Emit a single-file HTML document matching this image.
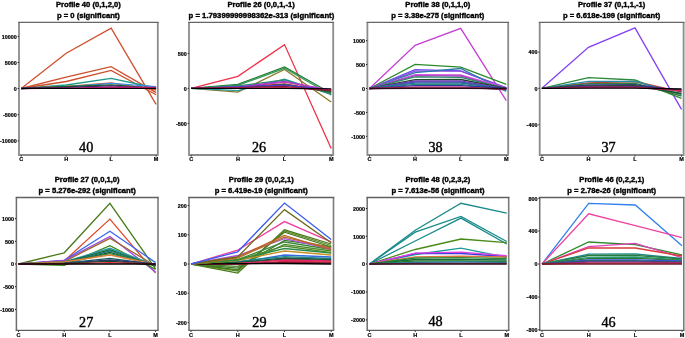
<!DOCTYPE html>
<html><head><meta charset="utf-8"><style>
html,body{margin:0;padding:0;background:#fff;width:685px;height:338px;overflow:hidden}
svg{display:block;will-change:transform}
.t{font-family:"Liberation Sans",sans-serif;font-weight:bold;font-size:8.0px;fill:#000;stroke:#000;stroke-width:0.4px}
.y{font-family:"Liberation Sans",sans-serif;font-weight:bold;font-size:5.4px;fill:#000;stroke:#000;stroke-width:0.2px}
.x{font-family:"Liberation Sans",sans-serif;font-weight:bold;font-size:5.5px;fill:#000;stroke:#000;stroke-width:0.2px}
.n{font-family:"Liberation Serif",serif;font-size:14.2px;fill:#000;stroke:#000;stroke-width:0.4px}
.l{fill:none;stroke-width:1.3;stroke-linejoin:miter}
.b{fill:none;stroke:#8c8c8c;stroke-width:1.8}
.bt{fill:none;stroke:#666;stroke-width:1.35}
</style></head><body>
<svg width="685" height="338" viewBox="0 0 685 338">

<g>
<text class="t" transform="translate(88.4,7) scale(0.955,1)" text-anchor="middle">Profile 40 (0,1,2,0)</text>
<text class="t" transform="translate(88.4,17.9) scale(0.955,1)" text-anchor="middle">p = 0 (significant)</text>
<polyline class="l" stroke="#cf4f2c" points="21.2,88.5 66.17,53.3 111.13,28.2 156.1,104.4"/>
<polyline class="l" stroke="#cf4f2c" points="21.2,88.5 66.17,77.2 111.13,66.7 156.1,92.6"/>
<polyline class="l" stroke="#cf4f2c" points="21.2,88.5 66.17,81.5 111.13,70.4 156.1,94.8"/>
<polyline class="l" stroke="#1f9a8a" points="21.2,88.5 66.17,85 111.13,78.3 156.1,88"/>
<polyline class="l" stroke="#d8602e" points="21.2,88.5 66.17,86.3 111.13,82.8 156.1,90"/>
<polyline class="l" stroke="#3a8ee8" points="21.2,88.5 66.17,87 111.13,83.3 156.1,86.6"/>
<polyline class="l" stroke="#1a6a2a" points="21.2,88.5 66.17,86.5 111.13,84.8 156.1,88.2"/>
<polyline class="l" stroke="#2a2a6a" points="21.2,88.5 66.17,87.3 111.13,85.8 156.1,88.5"/>
<polyline class="l" stroke="#e0208a" points="21.2,88.5 66.17,88.2 111.13,87.1 156.1,87.3"/>
<polyline class="l" stroke="#000000" stroke-width="1.05" points="21.2,88.3 66.17,88.3 111.13,88.3 156.1,88.3"/>
<path class="b" d="M19 22.3V155H157.8V22.3"/>
<path class="bt" d="M18.1 22.35H158.7"/>
<rect x="17.7" y="35.9" width="1" height="1" fill="#000"/>
<text class="y" x="16.7" y="38.6" text-anchor="end">10000</text>
<rect x="17.7" y="62" width="1" height="1" fill="#000"/>
<text class="y" x="16.7" y="64.7" text-anchor="end">5000</text>
<rect x="17.7" y="88" width="1" height="1" fill="#000"/>
<text class="y" x="16.7" y="90.7" text-anchor="end">0</text>
<rect x="17.7" y="114.2" width="1" height="1" fill="#000"/>
<text class="y" x="16.7" y="116.9" text-anchor="end">-5000</text>
<rect x="17.7" y="140.3" width="1" height="1" fill="#000"/>
<text class="y" x="16.7" y="143" text-anchor="end">-10000</text>
<rect x="20.7" y="155.5" width="1" height="1" fill="#000"/>
<text class="x" x="21.2" y="161.45" text-anchor="middle">C</text>
<rect x="65.67" y="155.5" width="1" height="1" fill="#000"/>
<text class="x" x="66.17" y="161.45" text-anchor="middle">H</text>
<rect x="110.63" y="155.5" width="1" height="1" fill="#000"/>
<text class="x" x="111.13" y="161.45" text-anchor="middle">L</text>
<rect x="155.6" y="155.5" width="1" height="1" fill="#000"/>
<text class="x" x="156.1" y="161.45" text-anchor="middle">M</text>
<text class="n" x="86.2" y="151.7" text-anchor="middle">40</text>
</g>
<g>
<text class="t" transform="translate(261.1,7) scale(0.955,1)" text-anchor="middle">Profile 26 (0,0,1,-1)</text>
<text class="t" transform="translate(261.4,17.9) scale(0.965,1)" text-anchor="middle">p = 1.79399999998362e-313 (significant)</text>
<polyline class="l" stroke="#f0304a" points="191.2,88.4 237.87,76.3 284.53,44.6 331.2,148.5"/>
<polyline class="l" stroke="#8a7a2a" points="191.2,88.4 237.87,92.2 284.53,69.4 331.2,102"/>
<polyline class="l" stroke="#1f7a35" points="191.2,88.4 237.87,84.4 284.53,67 331.2,93.3"/>
<polyline class="l" stroke="#3a9a5a" points="191.2,88.4 237.87,85.4 284.53,68.3 331.2,95"/>
<polyline class="l" stroke="#2a9a9a" points="191.2,88.4 237.87,90.7 284.53,79.1 331.2,94.5"/>
<polyline class="l" stroke="#2a8a6a" points="191.2,88.4 237.87,86 284.53,80 331.2,93.8"/>
<polyline class="l" stroke="#9a3ae0" points="191.2,88.4 237.87,87 284.53,81.3 331.2,91"/>
<polyline class="l" stroke="#c03ac0" points="191.2,88.4 237.87,87.5 284.53,82.2 331.2,90"/>
<polyline class="l" stroke="#c03030" points="191.2,88.4 237.87,87.5 284.53,83.8 331.2,91.5"/>
<polyline class="l" stroke="#1a6a2a" points="191.2,88.4 237.87,88 284.53,84.5 331.2,92"/>
<polyline class="l" stroke="#4a3ad0" points="191.2,88.4 237.87,86.8 284.53,85.2 331.2,90"/>
<polyline class="l" stroke="#8a1a3a" points="191.2,88.4 237.87,87.6 284.53,86.5 331.2,90.8"/>
<polyline class="l" stroke="#e02a6a" points="191.2,88.4 237.87,88 284.53,87.6 331.2,89.6"/>
<polyline class="l" stroke="#000000" stroke-width="1.05" points="191.2,88.4 237.87,88.4 284.53,88.4 331.2,88.8"/>
<path class="b" d="M189 22.3V155H333.2V22.3"/>
<path class="bt" d="M188.1 22.35H334.1"/>
<rect x="187.7" y="52.9" width="1" height="1" fill="#000"/>
<text class="y" x="186.7" y="55.6" text-anchor="end">500</text>
<rect x="187.7" y="87.9" width="1" height="1" fill="#000"/>
<text class="y" x="186.7" y="90.6" text-anchor="end">0</text>
<rect x="187.7" y="122.9" width="1" height="1" fill="#000"/>
<text class="y" x="186.7" y="125.6" text-anchor="end">-500</text>
<rect x="190.7" y="155.5" width="1" height="1" fill="#000"/>
<text class="x" x="191.2" y="161.45" text-anchor="middle">C</text>
<rect x="237.37" y="155.5" width="1" height="1" fill="#000"/>
<text class="x" x="237.87" y="161.45" text-anchor="middle">H</text>
<rect x="284.03" y="155.5" width="1" height="1" fill="#000"/>
<text class="x" x="284.53" y="161.45" text-anchor="middle">L</text>
<rect x="330.7" y="155.5" width="1" height="1" fill="#000"/>
<text class="x" x="331.2" y="161.45" text-anchor="middle">M</text>
<text class="n" x="259" y="151.7" text-anchor="middle">26</text>
</g>
<g>
<text class="t" transform="translate(437.8,7) scale(0.955,1)" text-anchor="middle">Profile 38 (0,1,1,0)</text>
<text class="t" transform="translate(437.8,17.9) scale(0.955,1)" text-anchor="middle">p = 3.38e-275 (significant)</text>
<polyline class="l" stroke="#c43ed2" points="369.5,88.5 415.1,45.3 460.7,28.3 506.3,100.6"/>
<polyline class="l" stroke="#2a8a2a" points="369.5,88.5 415.1,64.4 460.7,67.1 506.3,84.3"/>
<polyline class="l" stroke="#6a4af0" points="369.5,88.5 415.1,69.7 460.7,70.8 506.3,87.5"/>
<polyline class="l" stroke="#8a4ae0" points="369.5,88.5 415.1,71.2 460.7,71.2 506.3,88"/>
<polyline class="l" stroke="#2a7aaa" points="369.5,88.5 415.1,72.6 460.7,68.5 506.3,91.5"/>
<polyline class="l" stroke="#d050e0" points="369.5,88.5 415.1,74.6 460.7,75 506.3,88"/>
<polyline class="l" stroke="#b040c0" points="369.5,88.5 415.1,75.6 460.7,76 506.3,88.8"/>
<polyline class="l" stroke="#2a8a6a" points="369.5,88.5 415.1,76.9 460.7,77.3 506.3,88.3"/>
<polyline class="l" stroke="#1a4a2a" points="369.5,88.5 415.1,79.6 460.7,79.5 506.3,88.5"/>
<polyline class="l" stroke="#7a3ab0" points="369.5,88.5 415.1,81 460.7,80.8 506.3,89"/>
<polyline class="l" stroke="#5a4ac0" points="369.5,88.5 415.1,82 460.7,82 506.3,89.5"/>
<polyline class="l" stroke="#2a6a9a" points="369.5,88.5 415.1,83.2 460.7,83 506.3,89"/>
<polyline class="l" stroke="#2a8a7a" points="369.5,88.5 415.1,84.3 460.7,84.3 506.3,90"/>
<polyline class="l" stroke="#2a3aa0" points="369.5,88.5 415.1,85.6 460.7,85.6 506.3,88.5"/>
<polyline class="l" stroke="#c040a0" points="369.5,88.5 415.1,86.8 460.7,86.8 506.3,89.5"/>
<polyline class="l" stroke="#8a1a2a" points="369.5,88.5 415.1,87.8 460.7,87.8 506.3,89"/>
<polyline class="l" stroke="#2a0a1a" points="369.5,88.5 415.1,88.4 460.7,88.4 506.3,88.5"/>
<path class="b" d="M367.4 22.3V155H508.2V22.3"/>
<path class="bt" d="M366.5 22.35H509.1"/>
<rect x="366.1" y="40.2" width="1" height="1" fill="#000"/>
<text class="y" x="365.1" y="42.9" text-anchor="end">1000</text>
<rect x="366.1" y="64.1" width="1" height="1" fill="#000"/>
<text class="y" x="365.1" y="66.8" text-anchor="end">500</text>
<rect x="366.1" y="88" width="1" height="1" fill="#000"/>
<text class="y" x="365.1" y="90.7" text-anchor="end">0</text>
<rect x="366.1" y="111.9" width="1" height="1" fill="#000"/>
<text class="y" x="365.1" y="114.6" text-anchor="end">-500</text>
<rect x="366.1" y="135.8" width="1" height="1" fill="#000"/>
<text class="y" x="365.1" y="138.5" text-anchor="end">-1000</text>
<rect x="369" y="155.5" width="1" height="1" fill="#000"/>
<text class="x" x="369.5" y="161.45" text-anchor="middle">C</text>
<rect x="414.6" y="155.5" width="1" height="1" fill="#000"/>
<text class="x" x="415.1" y="161.45" text-anchor="middle">H</text>
<rect x="460.2" y="155.5" width="1" height="1" fill="#000"/>
<text class="x" x="460.7" y="161.45" text-anchor="middle">L</text>
<rect x="505.8" y="155.5" width="1" height="1" fill="#000"/>
<text class="x" x="506.3" y="161.45" text-anchor="middle">M</text>
<text class="n" x="435.5" y="151.7" text-anchor="middle">38</text>
</g>
<g>
<text class="t" transform="translate(611.65,7) scale(0.955,1)" text-anchor="middle">Profile 37 (0,1,1,-1)</text>
<text class="t" transform="translate(611.65,17.9) scale(0.955,1)" text-anchor="middle">p = 6.618e-199 (significant)</text>
<polyline class="l" stroke="#8440f4" points="541.9,88.3 588.43,47.3 634.97,27.9 681.5,109.4"/>
<polyline class="l" stroke="#c84040" points="541.9,88.3 588.43,82.8 634.97,81.5 681.5,92"/>
<polyline class="l" stroke="#2a8a3a" points="541.9,88.3 588.43,77.7 634.97,80 681.5,98.3"/>
<polyline class="l" stroke="#2a8aaa" points="541.9,88.3 588.43,81.3 634.97,81.3 681.5,94.5"/>
<polyline class="l" stroke="#3a7a3a" points="541.9,88.3 588.43,83.7 634.97,83.1 681.5,96"/>
<polyline class="l" stroke="#2a3a8a" points="541.9,88.3 588.43,85 634.97,84.6 681.5,91"/>
<polyline class="l" stroke="#1a5a2a" points="541.9,88.3 588.43,86 634.97,85.5 681.5,93.5"/>
<polyline class="l" stroke="#5a2a7a" points="541.9,88.3 588.43,86.5 634.97,86.5 681.5,90"/>
<polyline class="l" stroke="#d82a6a" points="541.9,88.3 588.43,87.5 634.97,87.5 681.5,90.5"/>
<polyline class="l" stroke="#000000" stroke-width="1.05" points="541.9,88.3 588.43,88.2 634.97,88.2 681.5,89"/>
<path class="b" d="M539.7 22.3V155H683.6V22.3"/>
<path class="bt" d="M538.8 22.35H684.5"/>
<rect x="538.4" y="51.7" width="1" height="1" fill="#000"/>
<text class="y" x="537.4" y="54.4" text-anchor="end">400</text>
<rect x="538.4" y="87.8" width="1" height="1" fill="#000"/>
<text class="y" x="537.4" y="90.5" text-anchor="end">0</text>
<rect x="538.4" y="124.3" width="1" height="1" fill="#000"/>
<text class="y" x="537.4" y="127" text-anchor="end">-400</text>
<rect x="541.4" y="155.5" width="1" height="1" fill="#000"/>
<text class="x" x="541.9" y="161.45" text-anchor="middle">C</text>
<rect x="587.93" y="155.5" width="1" height="1" fill="#000"/>
<text class="x" x="588.43" y="161.45" text-anchor="middle">H</text>
<rect x="634.47" y="155.5" width="1" height="1" fill="#000"/>
<text class="x" x="634.97" y="161.45" text-anchor="middle">L</text>
<rect x="681" y="155.5" width="1" height="1" fill="#000"/>
<text class="x" x="681.5" y="161.45" text-anchor="middle">M</text>
<text class="n" x="608.5" y="151.7" text-anchor="middle">37</text>
</g>
<g>
<text class="t" transform="translate(87.2,182.2) scale(0.955,1)" text-anchor="middle">Profile 27 (0,0,1,0)</text>
<text class="t" transform="translate(87.2,193.1) scale(0.955,1)" text-anchor="middle">p = 5.276e-292 (significant)</text>
<polyline class="l" stroke="#4a7a1a" points="18.5,264 64.2,252.8 109.9,203.3 155.6,268.8"/>
<polyline class="l" stroke="#e04a2a" points="18.5,264 64.2,261 109.9,219.1 155.6,273.2"/>
<polyline class="l" stroke="#3a6af0" points="18.5,264 64.2,260.3 109.9,231.2 155.6,262.6"/>
<polyline class="l" stroke="#a040f0" points="18.5,264 64.2,260.5 109.9,236.5 155.6,272"/>
<polyline class="l" stroke="#9a6a2a" points="18.5,264 64.2,261.5 109.9,238.3 155.6,266"/>
<polyline class="l" stroke="#3a8a1a" points="18.5,264 64.2,265.3 109.9,245.6 155.6,269.3"/>
<polyline class="l" stroke="#2a9aaa" points="18.5,264 64.2,261.8 109.9,248.3 155.6,265"/>
<polyline class="l" stroke="#1a6a3a" points="18.5,264 64.2,262.2 109.9,249.8 155.6,266"/>
<polyline class="l" stroke="#1a7a7a" points="18.5,264 64.2,262.5 109.9,251 155.6,265.5"/>
<polyline class="l" stroke="#1a5a2a" points="18.5,264 64.2,262.8 109.9,252.5 155.6,266"/>
<polyline class="l" stroke="#2a8a4a" points="18.5,264 64.2,263 109.9,253.6 155.6,265"/>
<polyline class="l" stroke="#e0803a" points="18.5,264 64.2,262 109.9,255 155.6,264.5"/>
<polyline class="l" stroke="#1a5a5a" points="18.5,264 64.2,263.2 109.9,258.3 155.6,264.5"/>
<polyline class="l" stroke="#2a3a7a" points="18.5,264 64.2,263.4 109.9,260 155.6,264"/>
<polyline class="l" stroke="#1a4a2a" points="18.5,264 64.2,263.6 109.9,261.2 155.6,265"/>
<polyline class="l" stroke="#e02a4a" points="18.5,264 64.2,263.8 109.9,262.7 155.6,264"/>
<polyline class="l" stroke="#000000" stroke-width="1.05" points="18.5,264 64.2,264 109.9,264 155.6,264"/>
<path fill="none" stroke="#6e6e6e" stroke-width="1.5" d="M16.4 197.5V330.3"/>
<path fill="none" stroke="#7c7c7c" stroke-width="1.6" d="M158 197.5V330.3"/>
<path fill="none" stroke="#606060" stroke-width="1.3" d="M15.65 197.5H158.8"/>
<path fill="none" stroke="#606060" stroke-width="1.3" d="M15.65 330.3H158.8"/>
<rect x="15.1" y="218.1" width="1" height="1" fill="#000"/>
<text class="y" x="14.1" y="220.8" text-anchor="end">1000</text>
<rect x="15.1" y="240.8" width="1" height="1" fill="#000"/>
<text class="y" x="14.1" y="243.5" text-anchor="end">500</text>
<rect x="15.1" y="263.5" width="1" height="1" fill="#000"/>
<text class="y" x="14.1" y="266.2" text-anchor="end">0</text>
<rect x="15.1" y="286.2" width="1" height="1" fill="#000"/>
<text class="y" x="14.1" y="288.9" text-anchor="end">-500</text>
<rect x="15.1" y="308.9" width="1" height="1" fill="#000"/>
<text class="y" x="14.1" y="311.6" text-anchor="end">-1000</text>
<rect x="18" y="330.8" width="1" height="1" fill="#000"/>
<text class="x" x="18.5" y="336.75" text-anchor="middle">C</text>
<rect x="63.7" y="330.8" width="1" height="1" fill="#000"/>
<text class="x" x="64.2" y="336.75" text-anchor="middle">H</text>
<rect x="109.4" y="330.8" width="1" height="1" fill="#000"/>
<text class="x" x="109.9" y="336.75" text-anchor="middle">L</text>
<rect x="155.1" y="330.8" width="1" height="1" fill="#000"/>
<text class="x" x="155.6" y="336.75" text-anchor="middle">M</text>
<text class="n" x="86.2" y="326.9" text-anchor="middle">27</text>
</g>
<g>
<text class="t" transform="translate(261.25,182.2) scale(0.955,1)" text-anchor="middle">Profile 29 (0,0,2,1)</text>
<text class="t" transform="translate(261.25,193.1) scale(0.955,1)" text-anchor="middle">p = 6.419e-19 (significant)</text>
<polyline class="l" stroke="#4a7a1a" points="191,264 237.73,273.1 284.47,229.8 331.2,244"/>
<polyline class="l" stroke="#5a8a2a" points="191,264 237.73,271 284.47,231 331.2,245.5"/>
<polyline class="l" stroke="#4a7a1a" points="191,264 237.73,269.8 284.47,232.2 331.2,247"/>
<polyline class="l" stroke="#3a7a2a" points="191,264 237.73,268.1 284.47,240.4 331.2,247"/>
<polyline class="l" stroke="#4a8a2a" points="191,264 237.73,266.4 284.47,244.4 331.2,251"/>
<polyline class="l" stroke="#3a6ae0" points="191,264 237.73,262.5 284.47,255 331.2,257"/>
<polyline class="l" stroke="#1a8a8a" points="191,264 237.73,261.3 284.47,256.6 331.2,258.5"/>
<polyline class="l" stroke="#1a5a5a" points="191,264 237.73,262.5 284.47,258 331.2,259.5"/>
<polyline class="l" stroke="#1a5a2a" points="191,264 237.73,263 284.47,259 331.2,260.5"/>
<polyline class="l" stroke="#e02a6a" points="191,264 237.73,263.5 284.47,260 331.2,261"/>
<polyline class="l" stroke="#e02a4a" points="191,264 237.73,264 284.47,261.5 331.2,262"/>
<polyline class="l" stroke="#8a1a3a" points="191,264 237.73,264 284.47,262.5 331.2,263"/>
<polyline class="l" stroke="#000000" stroke-width="1.05" points="191,264 237.73,263.6 284.47,263.5 331.2,264"/>
<polyline class="l" stroke="#c8902a" points="191,264 237.73,260.5 284.47,251 331.2,255"/>
<polyline class="l" stroke="#2a8a4a" points="191,264 237.73,259.7 284.47,248.5 331.2,253"/>
<polyline class="l" stroke="#4a8a2a" points="191,264 237.73,260 284.47,246 331.2,252.6"/>
<polyline class="l" stroke="#3a8a3a" points="191,264 237.73,259.7 284.47,242 331.2,249.5"/>
<polyline class="l" stroke="#b050e0" points="191,264 237.73,255.5 284.47,238.7 331.2,249"/>
<polyline class="l" stroke="#b0702a" points="191,264 237.73,258 284.47,237.1 331.2,248"/>
<polyline class="l" stroke="#c0602a" points="191,264 237.73,256.9 284.47,235.5 331.2,250"/>
<polyline class="l" stroke="#f040a0" points="191,264 237.73,250.1 284.47,221.6 331.2,241.8"/>
<polyline class="l" stroke="#6a6a1a" points="191,264 237.73,256.9 284.47,209.6 331.2,242.8"/>
<polyline class="l" stroke="#3a5af0" points="191,264 237.73,251.8 284.47,203 331.2,239.6"/>
<path fill="none" stroke="#6e6e6e" stroke-width="1.5" d="M189 197.5V330.3"/>
<path fill="none" stroke="#7c7c7c" stroke-width="1.6" d="M333.5 197.5V330.3"/>
<path fill="none" stroke="#606060" stroke-width="1.3" d="M188.25 197.5H334.3"/>
<path fill="none" stroke="#606060" stroke-width="1.3" d="M188.25 330.3H334.3"/>
<rect x="187.7" y="205" width="1" height="1" fill="#000"/>
<text class="y" x="186.7" y="207.7" text-anchor="end">200</text>
<rect x="187.7" y="234.3" width="1" height="1" fill="#000"/>
<text class="y" x="186.7" y="237" text-anchor="end">100</text>
<rect x="187.7" y="263.5" width="1" height="1" fill="#000"/>
<text class="y" x="186.7" y="266.2" text-anchor="end">0</text>
<rect x="187.7" y="292.7" width="1" height="1" fill="#000"/>
<text class="y" x="186.7" y="295.4" text-anchor="end">-100</text>
<rect x="187.7" y="321.9" width="1" height="1" fill="#000"/>
<text class="y" x="186.7" y="324.6" text-anchor="end">-200</text>
<rect x="190.5" y="330.8" width="1" height="1" fill="#000"/>
<text class="x" x="191" y="336.75" text-anchor="middle">C</text>
<rect x="237.23" y="330.8" width="1" height="1" fill="#000"/>
<text class="x" x="237.73" y="336.75" text-anchor="middle">H</text>
<rect x="283.97" y="330.8" width="1" height="1" fill="#000"/>
<text class="x" x="284.47" y="336.75" text-anchor="middle">L</text>
<rect x="330.7" y="330.8" width="1" height="1" fill="#000"/>
<text class="x" x="331.2" y="336.75" text-anchor="middle">M</text>
<text class="n" x="259.4" y="326.9" text-anchor="middle">29</text>
</g>
<g>
<text class="t" transform="translate(437.95,182.2) scale(0.955,1)" text-anchor="middle">Profile 48 (0,2,3,2)</text>
<text class="t" transform="translate(437.95,193.1) scale(0.955,1)" text-anchor="middle">p = 7.613e-56 (significant)</text>
<polyline class="l" stroke="#1a8a8a" points="369.5,264 415.23,230.2 460.97,203.3 506.7,213.1"/>
<polyline class="l" stroke="#1a8a8a" points="369.5,264 415.23,232.2 460.97,216.4 506.7,241.5"/>
<polyline class="l" stroke="#1a8a8a" points="369.5,264 415.23,241 460.97,218.1 506.7,244"/>
<polyline class="l" stroke="#4a8a1a" points="369.5,264 415.23,249.5 460.97,239 506.7,242.7"/>
<polyline class="l" stroke="#1a9a9a" points="369.5,264 415.23,254.5 460.97,248.1 506.7,257.3"/>
<polyline class="l" stroke="#3a3ae0" points="369.5,264 415.23,253.5 460.97,253.5 506.7,256.5"/>
<polyline class="l" stroke="#e040e0" points="369.5,264 415.23,253.2 460.97,252.2 506.7,255.6"/>
<polyline class="l" stroke="#e07040" points="369.5,264 415.23,256.9 460.97,256.2 506.7,257"/>
<polyline class="l" stroke="#2a8a3a" points="369.5,264 415.23,258 460.97,257.6 506.7,258.5"/>
<polyline class="l" stroke="#1a6a3a" points="369.5,264 415.23,259.5 460.97,259.5 506.7,260"/>
<polyline class="l" stroke="#2a7a2a" points="369.5,264 415.23,261 460.97,261 506.7,261.5"/>
<polyline class="l" stroke="#1a8aaa" points="369.5,264 415.23,262.3 460.97,262 506.7,262.3"/>
<polyline class="l" stroke="#8a1a3a" points="369.5,264 415.23,263.5 460.97,263.5 506.7,263.5"/>
<polyline class="l" stroke="#3a1a2a" points="369.5,264 415.23,264 460.97,264 506.7,264"/>
<path fill="none" stroke="#6e6e6e" stroke-width="1.5" d="M367.2 197.5V330.3"/>
<path fill="none" stroke="#7c7c7c" stroke-width="1.6" d="M508.7 197.5V330.3"/>
<path fill="none" stroke="#606060" stroke-width="1.3" d="M366.45 197.5H509.5"/>
<path fill="none" stroke="#606060" stroke-width="1.3" d="M366.45 330.3H509.5"/>
<rect x="365.9" y="208" width="1" height="1" fill="#000"/>
<text class="y" x="364.9" y="210.7" text-anchor="end">2000</text>
<rect x="365.9" y="235.8" width="1" height="1" fill="#000"/>
<text class="y" x="364.9" y="238.5" text-anchor="end">1000</text>
<rect x="365.9" y="263.5" width="1" height="1" fill="#000"/>
<text class="y" x="364.9" y="266.2" text-anchor="end">0</text>
<rect x="365.9" y="291.5" width="1" height="1" fill="#000"/>
<text class="y" x="364.9" y="294.2" text-anchor="end">-1000</text>
<rect x="365.9" y="319.4" width="1" height="1" fill="#000"/>
<text class="y" x="364.9" y="322.1" text-anchor="end">-2000</text>
<rect x="369" y="330.8" width="1" height="1" fill="#000"/>
<text class="x" x="369.5" y="336.75" text-anchor="middle">C</text>
<rect x="414.73" y="330.8" width="1" height="1" fill="#000"/>
<text class="x" x="415.23" y="336.75" text-anchor="middle">H</text>
<rect x="460.47" y="330.8" width="1" height="1" fill="#000"/>
<text class="x" x="460.97" y="336.75" text-anchor="middle">L</text>
<rect x="506.2" y="330.8" width="1" height="1" fill="#000"/>
<text class="x" x="506.7" y="336.75" text-anchor="middle">M</text>
<text class="n" x="435.5" y="325.6" text-anchor="middle">48</text>
</g>
<g>
<text class="t" transform="translate(611.75,182.2) scale(0.955,1)" text-anchor="middle">Profile 46 (0,2,2,1)</text>
<text class="t" transform="translate(611.75,193.1) scale(0.955,1)" text-anchor="middle">p = 2.78e-26 (significant)</text>
<polyline class="l" stroke="#3080f0" points="542,264 588.67,203.3 635.33,205 682,245.8"/>
<polyline class="l" stroke="#f040a0" points="542,264 588.67,213.8 635.33,225.7 682,237.7"/>
<polyline class="l" stroke="#2a8a2a" points="542,264 588.67,242 635.33,244.7 682,254.8"/>
<polyline class="l" stroke="#e040c0" points="542,264 588.67,246.7 635.33,243.4 682,257.7"/>
<polyline class="l" stroke="#d83a3a" points="542,264 588.67,248 635.33,248 682,256"/>
<polyline class="l" stroke="#1a8a8a" points="542,264 588.67,254.2 635.33,254 682,258.5"/>
<polyline class="l" stroke="#2a7a3a" points="542,264 588.67,255.5 635.33,255.3 682,259"/>
<polyline class="l" stroke="#2a9a7a" points="542,264 588.67,257.3 635.33,257 682,259.8"/>
<polyline class="l" stroke="#2a7a2a" points="542,264 588.67,258.7 635.33,258.3 682,260.3"/>
<polyline class="l" stroke="#3a5ae0" points="542,264 588.67,260 635.33,259.8 682,261"/>
<polyline class="l" stroke="#1a5a5a" points="542,264 588.67,261 635.33,261 682,262"/>
<polyline class="l" stroke="#6a3a9a" points="542,264 588.67,262 635.33,262 682,262.5"/>
<polyline class="l" stroke="#e8203a" points="542,264 588.67,263.2 635.33,263.2 682,263.2"/>
<polyline class="l" stroke="#6a1a2a" points="542,264 588.67,264 635.33,264 682,264"/>
<path fill="none" stroke="#6e6e6e" stroke-width="1.5" d="M539.7 197.5V330.3"/>
<path fill="none" stroke="#7c7c7c" stroke-width="1.6" d="M683.8 197.5V330.3"/>
<path fill="none" stroke="#606060" stroke-width="1.3" d="M538.95 197.5H684.6"/>
<path fill="none" stroke="#606060" stroke-width="1.3" d="M538.95 330.3H684.6"/>
<rect x="538.4" y="197.8" width="1" height="1" fill="#000"/>
<text class="y" x="537.4" y="200.5" text-anchor="end">800</text>
<rect x="538.4" y="230.6" width="1" height="1" fill="#000"/>
<text class="y" x="537.4" y="233.3" text-anchor="end">400</text>
<rect x="538.4" y="263.5" width="1" height="1" fill="#000"/>
<text class="y" x="537.4" y="266.2" text-anchor="end">0</text>
<rect x="538.4" y="296.5" width="1" height="1" fill="#000"/>
<text class="y" x="537.4" y="299.2" text-anchor="end">-400</text>
<rect x="538.4" y="329.3" width="1" height="1" fill="#000"/>
<text class="y" x="537.4" y="332" text-anchor="end">-800</text>
<rect x="541.5" y="330.8" width="1" height="1" fill="#000"/>
<text class="x" x="542" y="336.75" text-anchor="middle">C</text>
<rect x="588.17" y="330.8" width="1" height="1" fill="#000"/>
<text class="x" x="588.67" y="336.75" text-anchor="middle">H</text>
<rect x="634.83" y="330.8" width="1" height="1" fill="#000"/>
<text class="x" x="635.33" y="336.75" text-anchor="middle">L</text>
<rect x="681.5" y="330.8" width="1" height="1" fill="#000"/>
<text class="x" x="682" y="336.75" text-anchor="middle">M</text>
<text class="n" x="608.5" y="326.9" text-anchor="middle">46</text>
</g>
</svg>
</body></html>
